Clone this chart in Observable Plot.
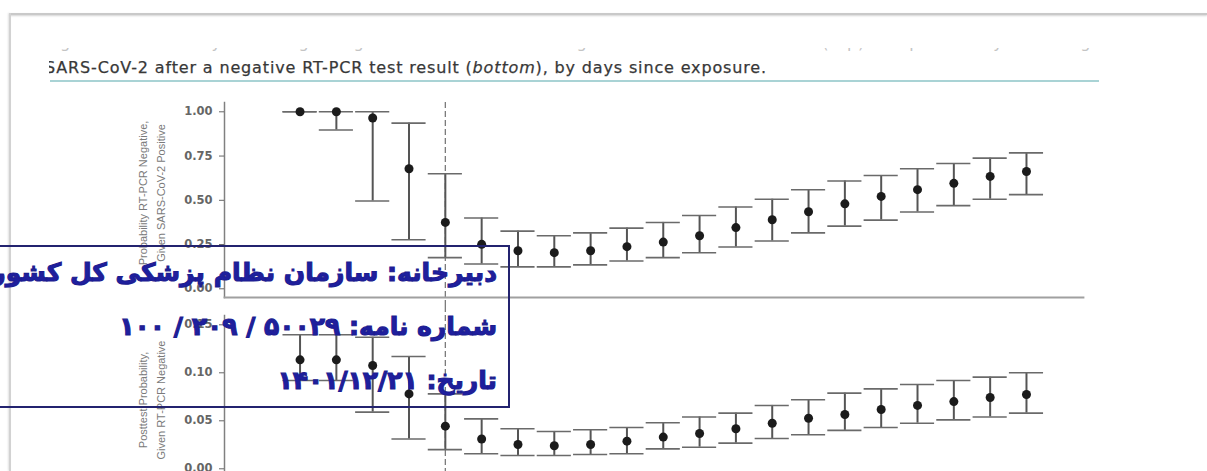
<!DOCTYPE html>
<html>
<head>
<meta charset="utf-8">
<script src="https://cdn.jsdelivr.net/npm/d3@7"></script>
<script src="https://cdn.jsdelivr.net/npm/@observablehq/plot@0.6"></script>
<style>
  html, body { margin: 0; padding: 0; background: #fff; }
  #page { position: relative; width: 1207px; height: 471px; overflow: hidden; background: #fff; font-family: "DejaVu Sans", sans-serif; }
  .abs { position: absolute; }
  #borderTop { left: 10px; top: 13px; width: 1197px; height: 2px; background: #c9c9c9; box-shadow: 0 1px 2px rgba(0,0,0,0.18); }
  #borderLeft { left: 9px; top: 13px; width: 2px; height: 458px; background: #d2d2d2; box-shadow: -1px 0 2px rgba(0,0,0,0.12); }
  #capPrevClip { left: 49px; top: 48px; width: 1060px; height: 5px; overflow: hidden; }
  #capPrev { position: absolute; left: -3px; top: -14px; font-size: 16px; letter-spacing: 0.8px; line-height: 18px; color: #c4c4c4; white-space: nowrap; }
  #capClip { left: 49px; top: 56px; width: 1060px; height: 24px; overflow: hidden; }
  #cap { position: absolute; left: -4px; top: 3px; font-size: 16px; letter-spacing: 0.85px; line-height: 18px; color: #383838; white-space: nowrap; -webkit-text-stroke: 0.25px #383838; }
  #capRule { left: 50px; top: 80px; width: 1049px; height: 2px; background: #a9d3d5; }
  .ylab { width: 200px; height: 36px; text-align: center; font-family: "Liberation Sans Narrow", "Arial Narrow", "Liberation Sans", sans-serif; font-size: 11px; line-height: 18px; color: #7a7a7a; transform: rotate(-90deg); white-space: nowrap; }
  .plot text { font-family: "DejaVu Sans", sans-serif; font-weight: bold; }
  #stamp { left: -2px; top: 245px; width: 512px; height: 163px; border: 2px solid #23236f; box-sizing: border-box; }
  .stampLine { left: 0; width: 497px; text-align: right; direction: rtl; white-space: nowrap; font-family: "DejaVu Sans", sans-serif; font-weight: bold; font-size: 25px; line-height: 30px; color: #1f1f9e; -webkit-text-stroke: 1.1px #1c1c90; }
</style>
</head>
<body>
<div id="page">
  <div id="borderTop" class="abs"></div>
  <div id="borderLeft" class="abs"></div>
  <div id="capPrevClip" class="abs"><div id="capPrev"></div></div>
  <div id="capClip" class="abs"><div id="cap"></div></div>
  <div id="capRule" class="abs"></div>
  <div id="topPlot" class="abs plot" style="left:0;top:90px"></div>
  <div id="bottomPlot" class="abs plot" style="left:0;top:306px"></div>
  <div id="ylabTop" class="abs ylab" style="left:52px;top:175px"></div>
  <div id="ylabBottom" class="abs ylab" style="left:52px;top:382px"></div>
  <div id="stamp" class="abs"></div>
  <div id="st1" class="abs stampLine" style="top:258px"></div>
  <div id="st2" class="abs stampLine" style="top:312px"></div>
  <div id="st3" class="abs stampLine" style="top:366px"></div>
</div>
<script>
// ---- Data ----
const days = [1, 2, 3, 4, 5, 6, 7, 8, 9, 10, 11, 12, 13, 14, 15, 16, 17, 18, 19, 20, 21];

// Top: probability RT-PCR negative given SARS-CoV-2 positive
const fnrEst = [1.00, 1.00, 0.965, 0.678, 0.375, 0.251, 0.215, 0.204, 0.215, 0.238, 0.264, 0.300, 0.346, 0.390, 0.435, 0.480, 0.522, 0.560, 0.596, 0.635, 0.663];
const fnrLo  = [1.00, 0.897, 0.496, 0.277, 0.176, 0.140, 0.124, 0.124, 0.135, 0.157, 0.176, 0.204, 0.236, 0.270, 0.316, 0.354, 0.388, 0.434, 0.470, 0.506, 0.532];
const fnrHi  = [1.00, 1.00, 1.00, 0.936, 0.650, 0.400, 0.326, 0.300, 0.316, 0.343, 0.375, 0.414, 0.462, 0.506, 0.560, 0.609, 0.640, 0.678, 0.708, 0.738, 0.768];

// Bottom: posttest probability given RT-PCR negative
const postEst = [0.1135, 0.1135, 0.1076, 0.078, 0.0444, 0.031, 0.0253, 0.024, 0.0253, 0.0288, 0.033, 0.0368, 0.0417, 0.0475, 0.0527, 0.0566, 0.0618, 0.066, 0.070, 0.0743, 0.0774];
const postLo  = [0.092, 0.092, 0.059, 0.031, 0.020, 0.0156, 0.0139, 0.0139, 0.0149, 0.0156, 0.0208, 0.0225, 0.0267, 0.0316, 0.0354, 0.040, 0.043, 0.0475, 0.051, 0.054, 0.058];
const postHi  = [0.1396, 0.1396, 0.137, 0.117, 0.078, 0.052, 0.0417, 0.0389, 0.0406, 0.043, 0.048, 0.054, 0.058, 0.066, 0.0719, 0.0788, 0.0833, 0.0878, 0.092, 0.0955, 0.100];

const topTicks = [0, 0.25, 0.50, 0.75, 1.00];
const bottomTicks = [0, 0.05, 0.10, 0.15];
const exposureDay = [5];

const captionPrev = "Figure 2. Probability of having a negative RT-PCR test result given SARS-CoV-2 infection (top) and probability of having";
const captionText = "SARS-CoV-2 after a negative RT-PCR test result (<i>bottom</i>), by days since exposure.";
const yLabelTop = ["Probability RT-PCR Negative,", "Given SARS-CoV-2 Positive"];
const yLabelBottom = ["Posttest Probability,", "Given RT-PCR Negative"];
const stampLines = [
  "دبیرخانه: سازمان نظام پزشکی کل کشور",
  "شماره نامه: ۵۰۰۲۹ / ۲۰۹ / ۱۰۰",
  "تاریخ: ۱۴۰۱/۱۲/۲۱"
];

// ---- Build ----
const topData = days.map((d, i) => ({day: d, est: fnrEst[i], lo: fnrLo[i], hi: fnrHi[i]}));
const bottomData = days.map((d, i) => ({day: d, est: postEst[i], lo: postLo[i], hi: postHi[i]}));

const xDomain = [-1.08, 22.57];
const capHalf = 0.47;

function panel({data, yDomain, yRange, ticks, height, marginTop, marginBottom, dashInset, bottomLine}) {
  const marks = [
    Plot.ruleX(exposureDay, {stroke: "#7a7a7a", strokeWidth: 1.3, strokeDasharray: "6,3", ...dashInset}),
    Plot.frame({anchor: "left", stroke: "#808080", strokeWidth: 1.5}),
    Plot.axisY({ticks, tickFormat: d3.format(".2f"), tickSize: 5, tickPadding: 7, fontSize: 11.5, color: "#666", label: null}),
    Plot.ruleX(data, {x: "day", y1: "lo", y2: "hi", stroke: "#555", strokeWidth: 2}),
    Plot.ruleY(data, {y: "hi", x1: d => d.day - capHalf, x2: d => d.day + capHalf, stroke: "#6a6a6a", strokeWidth: 1.6}),
    Plot.ruleY(data, {y: "lo", x1: d => d.day - capHalf, x2: d => d.day + capHalf, stroke: "#6a6a6a", strokeWidth: 1.6}),
    Plot.dot(data, {x: "day", y: "est", r: 4.5, fill: "#1b1b1b", stroke: "none"})
  ];
  if (bottomLine) marks.splice(2, 0, Plot.frame({anchor: "bottom", stroke: "#a0a0a0", strokeWidth: 1.8}));
  return Plot.plot({
    width: 1207, height,
    marginLeft: 224, marginRight: 124, marginTop, marginBottom,
    x: {domain: xDomain, axis: null},
    y: {domain: yDomain, range: yRange, axis: null},
    style: {background: "transparent", overflow: "visible"},
    marks
  });
}

document.getElementById("topPlot").appendChild(panel({
  data: topData, yDomain: [0, 1], yRange: [198.3, 21.3], ticks: topTicks,
  height: 216, marginTop: 12, marginBottom: 9, dashInset: {insetBottom: -9}, bottomLine: true
}));
document.getElementById("bottomPlot").appendChild(panel({
  data: bottomData, yDomain: [0, 0.15], yRange: [162.3, 18.3], ticks: bottomTicks,
  height: 165, marginTop: 9, marginBottom: 0, dashInset: {insetTop: -9}, bottomLine: false
}));

document.getElementById("capPrev").textContent = captionPrev;
document.getElementById("cap").innerHTML = captionText;
document.getElementById("ylabTop").innerHTML = yLabelTop.join("<br>");
document.getElementById("ylabBottom").innerHTML = yLabelBottom.join("<br>");
["st1", "st2", "st3"].forEach((id, i) => { document.getElementById(id).textContent = stampLines[i]; });
</script>
</body>
</html>
